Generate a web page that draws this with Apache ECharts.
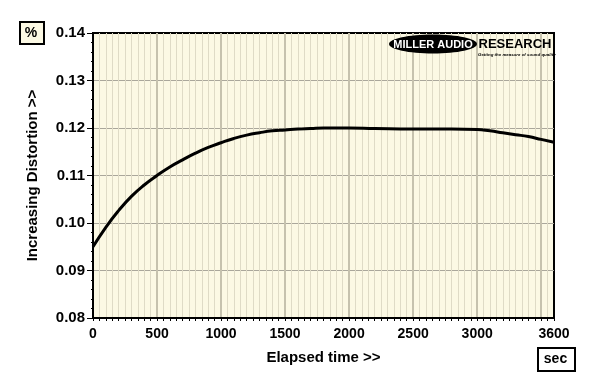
<!DOCTYPE html>
<html>
<head>
<meta charset="utf-8">
<script src="https://cdn.jsdelivr.net/npm/echarts@6/dist/echarts.min.js"></script>
<style>
html,body{margin:0;padding:0;background:#fff;}
#c{width:600px;height:382px;}
</style>
</head>
<body>
<div id="c"></div>
<script>
// Elapsed time (sec) and distortion (%)
var times = [0, 100, 200, 300, 400, 500, 600, 700, 800, 900, 1000, 1100, 1200, 1300, 1400, 1500, 1600, 1700, 1800, 2000, 2200, 2500, 2800, 3000, 3100, 3200, 3300, 3400, 3500, 3600];
var distortion = [0.0950, 0.0991, 0.1026, 0.1056, 0.1080, 0.1100, 0.1118, 0.1133, 0.1147, 0.1159, 0.1169, 0.1178, 0.1185, 0.1190, 0.1194, 0.1196, 0.1198, 0.1199, 0.1200, 0.1200, 0.1199, 0.1198, 0.1198, 0.1197, 0.1194, 0.1190, 0.1186, 0.1182, 0.1176, 0.1170];
var xTickLabels = ['0', '500', '1000', '1500', '2000', '2500', '3000', '3600'];
var yTickLabels = ['0.08', '0.09', '0.10', '0.11', '0.12', '0.13', '0.14'];

var FONT = '"Liberation Sans", Arial, sans-serif';
var chart = echarts.init(document.getElementById('c'), null, {renderer: 'canvas'});
var pts = times.map(function (t, i) { return [t, distortion[i]]; });

chart.setOption({
  animation: false,
  backgroundColor: '#ffffff',
  grid: {
    left: 93, right: 46, top: 33, bottom: 64,
    show: true, backgroundColor: '#fcf9e4', borderColor: '#000', borderWidth: 2
  },
  xAxis: [
    {
      type: 'value', min: 0, max: 3600, interval: 50, position: 'bottom',
      axisLine: {show: false, onZero: false},
      axisLabel: {show: false},
      axisTick: {show: true, length: 3, lineStyle: {color: '#000', width: 1}},
      splitLine: {show: true, showMinLine: false, showMaxLine: false, lineStyle: {color: '#dfdbc6', width: 1}}
    },
    {
      type: 'value', min: 0, max: 3600, interval: 500, position: 'bottom',
      name: 'Elapsed time >>', nameLocation: 'middle', nameGap: 32,
      nameTextStyle: {fontFamily: FONT, fontWeight: 'bold', fontSize: 15, color: '#000'},
      axisLine: {show: true, onZero: false, lineStyle: {color: '#000', width: 2}},
      axisTick: {show: false},
      axisLabel: {
        fontFamily: FONT, fontWeight: 'bold', fontSize: 14, color: '#000', margin: 9,
        showMaxLabel: true,
        formatter: function (v) {
          var s = String(Math.round(v));
          return xTickLabels.indexOf(s) >= 0 ? s : '';
        }
      },
      splitLine: {show: true, showMinLine: false, showMaxLine: false, lineStyle: {color: '#c6c2ae', width: 2}}
    }
  ],
  yAxis: {
    type: 'value', min: 0.08, max: 0.14, interval: 0.01,
    name: 'Increasing Distortion >>', nameLocation: 'middle', nameGap: 53,
    nameTextStyle: {fontFamily: FONT, fontWeight: 'bold', fontSize: 15, color: '#000'},
    axisLine: {show: true, lineStyle: {color: '#000', width: 2}},
    axisTick: {show: true, length: 6, lineStyle: {color: '#000', width: 1}},
    minorTick: {show: true, splitNumber: 5, length: 2, lineStyle: {color: '#000', width: 1}},
    axisLabel: {
      fontFamily: FONT, fontWeight: 'bold', fontSize: 15, color: '#000', margin: 8,
      formatter: function (v) {
        var s = v.toFixed(2);
        return yTickLabels.indexOf(s) >= 0 ? s : '';
      }
    },
    splitLine: {show: true, showMinLine: false, showMaxLine: false, lineStyle: {color: '#aaa79b', width: 1}}
  },
  series: [{
    type: 'line', xAxisIndex: 1, data: pts, smooth: true,
    showSymbol: false, symbol: 'none',
    lineStyle: {color: '#000', width: 3}, z: 5
  }],
  graphic: [
    {type: 'rect', left: 19, top: 21, shape: {width: 24, height: 22},
     style: {fill: '#fcf9e4', stroke: '#000', lineWidth: 2}, z: 10},
    {type: 'text', x: 31, y: 33,
     style: {text: '%', font: 'bold 14px ' + FONT, fill: '#000', textAlign: 'center', textVerticalAlign: 'middle'}, z: 11},
    {type: 'rect', left: 537, top: 347, shape: {width: 37, height: 23},
     style: {fill: '#ffffff', stroke: '#000', lineWidth: 2}, z: 10},
    {type: 'text', x: 555.5, y: 359,
     style: {text: 'sec', font: 'bold 14px ' + FONT, fill: '#000', textAlign: 'center', textVerticalAlign: 'middle'}, z: 11},
    // logo
    {type: 'ellipse', shape: {cx: 433, cy: 44, rx: 44, ry: 9.5},
     style: {fill: '#000'}, z: 10},
    {type: 'text', x: 433, y: 44.5,
     style: {text: 'MILLER AUDIO', font: 'bold 11px ' + FONT, fill: '#fff', textAlign: 'center', textVerticalAlign: 'middle'}, z: 11},
    {type: 'text', x: 515, y: 44.5,
     style: {text: 'RESEARCH', font: 'bold 13px ' + FONT, fill: '#000', textAlign: 'center', textVerticalAlign: 'middle'}, z: 11},
    {type: 'text', x: 478, y: 55,
     style: {text: 'Getting the measure of sound quality', font: 'italic bold 4.4px ' + FONT, fill: '#000', textAlign: 'left', textVerticalAlign: 'middle'}, z: 11}
  ]
});
</script>
</body>
</html>
